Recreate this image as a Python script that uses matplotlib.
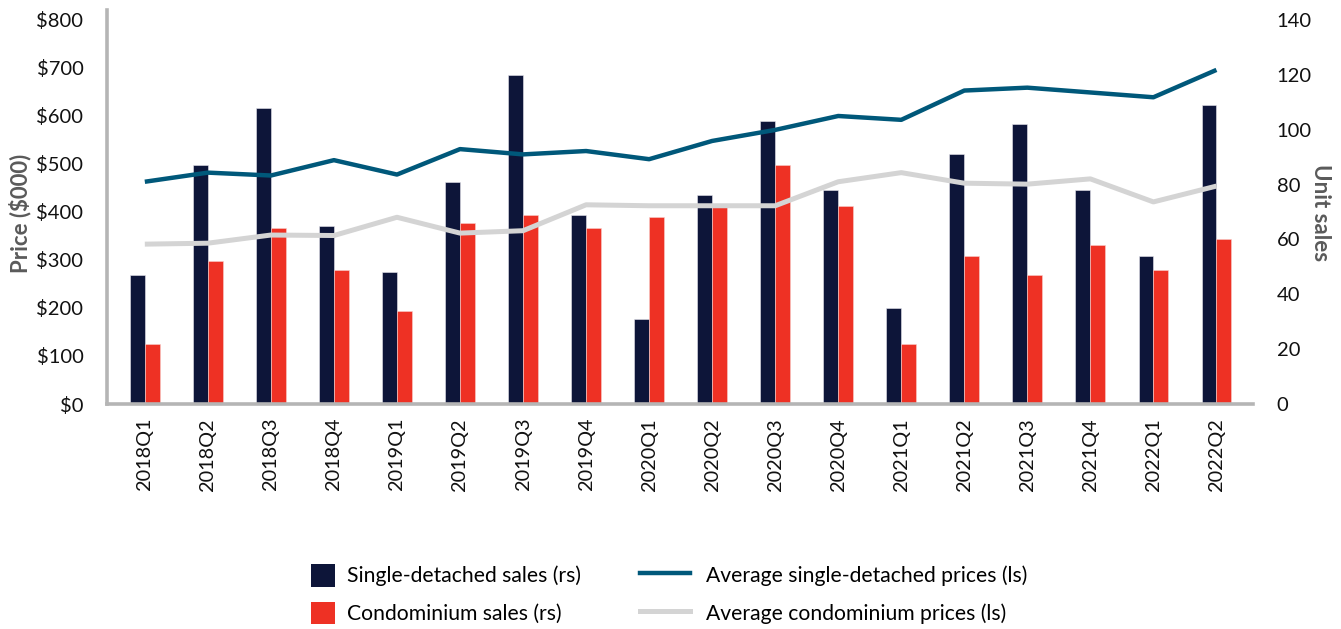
import matplotlib
matplotlib.use("Agg")
import matplotlib.pyplot as plt
import numpy as np
from matplotlib.patches import Patch
from matplotlib.lines import Line2D

plt.rcParams['font.family'] = ['Lato', 'DejaVu Sans']

quarters = ["2018Q1", "2018Q2", "2018Q3", "2018Q4", "2019Q1", "2019Q2", "2019Q3", "2019Q4",
            "2020Q1", "2020Q2", "2020Q3", "2020Q4", "2021Q1", "2021Q2", "2021Q3", "2021Q4",
            "2022Q1", "2022Q2"]
single_sales = [47, 87, 108, 65, 48, 81, 120, 69, 31, 76, 103, 78, 35, 91, 102, 78, 54, 109]
condo_sales = [22, 52, 64, 49, 34, 66, 69, 64, 68, 72, 87, 72, 22, 54, 47, 58, 49, 60]
single_price = [463, 482, 476, 508, 478, 531, 520, 527, 510, 548, 571, 600, 592, 653, 659, 649, 639, 696]
condo_price = [333, 335, 352, 351, 389, 356, 361, 415, 413, 413, 413, 463, 482, 460, 458, 469, 421, 454]

price_ticks = [0, 100, 200, 300, 400, 500, 600, 700, 800]
unit_ticks = [0, 20, 40, 60, 80, 100, 120, 140]

NAVY = "#0d1539"
RED = "#ee3124"
TEAL = "#00587a"
LGRAY = "#d4d4d4"
AXGRAY = "#b5b5b5"
LABGRAY = "#5a5a5a"

W, H = 1341, 629
fig = plt.figure(figsize=(W / 100, H / 100), dpi=100)
left, right, bottom, top = 107 / W, 1253 / W, 1 - 404 / H, 1 - 10 / H
ax = fig.add_axes([left, bottom, right - left, top - bottom])
ax2 = ax.twinx()

x = np.arange(len(quarters))
bw = 0.236
ax2.bar(x - bw / 2, single_sales, width=bw, color=NAVY, edgecolor="#e8e8ee", linewidth=0.4)
ax2.bar(x + bw / 2, condo_sales, width=bw, color=RED, edgecolor="#f8d0cc", linewidth=0.4)

ax.plot(x, single_price, color=TEAL, lw=3.2, solid_capstyle='butt', zorder=3)
ax.plot(x, condo_price, color=LGRAY, lw=3.6, solid_capstyle='butt', zorder=2)

ax.set_zorder(ax2.get_zorder() + 1)
ax.patch.set_visible(False)

ax.set_xlim(-0.6, 17.58)
ax.set_ylim(0, 820.8)
ax2.set_ylim(0, 143.6)

ax.set_yticks(price_ticks)
ax.set_yticklabels([f"${v}" for v in price_ticks], fontsize=14.5, color="#111111")
ax2.set_yticks(unit_ticks)
ax2.set_yticklabels([str(v) for v in unit_ticks], fontsize=14.5, color="#111111")
ax.set_xticks(x)
ax.set_xticklabels(quarters, rotation=90, fontsize=14.3, color="#111111")

ax.tick_params(axis='y', length=0, pad=17)
ax2.tick_params(axis='y', length=0, pad=17)
ax.tick_params(axis='x', length=0, pad=10)

for s in ["top", "right"]:
    ax.spines[s].set_visible(False)
for s in ax2.spines.values():
    s.set_visible(False)
ax.spines["left"].set_color(AXGRAY)
ax.spines["left"].set_linewidth(2.6)
ax.spines["bottom"].set_color(AXGRAY)
ax.spines["bottom"].set_linewidth(2.6)

fig.text(20 / W, 1 - 213 / H, "Price ($000)", fontsize=16, fontweight="bold", color=LABGRAY,
         rotation=90, ha="center", va="center")
fig.text(1320 / W, 1 - 213 / H, "Unit sales", fontsize=16, fontweight="bold", color=LABGRAY,
         rotation=-90, ha="center", va="center")

fs = 15.2
fpx = fs * 100 / 72
leg1 = fig.legend([Patch(facecolor=NAVY), Patch(facecolor=RED)],
                  ["Single-detached sales (rs)", "Condominium sales (rs)"],
                  loc="center left", bbox_to_anchor=(311 / W, 1 - 594 / H),
                  frameon=False, fontsize=fs, borderpad=0, borderaxespad=0,
                  handlelength=24 / fpx, handleheight=27 / fpx,
                  labelspacing=(42 - 27) / fpx, handletextpad=12 / fpx)
leg2 = fig.legend([Line2D([0], [0], color=TEAL, lw=3.2), Line2D([0], [0], color=LGRAY, lw=3.6)],
                  ["Average single-detached prices (ls)", "Average condominium prices (ls)"],
                  loc="center left", bbox_to_anchor=(640 / W, 1 - 594 / H),
                  frameon=False, fontsize=fs, borderpad=0, borderaxespad=0,
                  handlelength=50 / fpx, handleheight=27 / fpx,
                  labelspacing=(42 - 27) / fpx, handletextpad=16 / fpx)

fig.savefig("out.png", dpi=100)
